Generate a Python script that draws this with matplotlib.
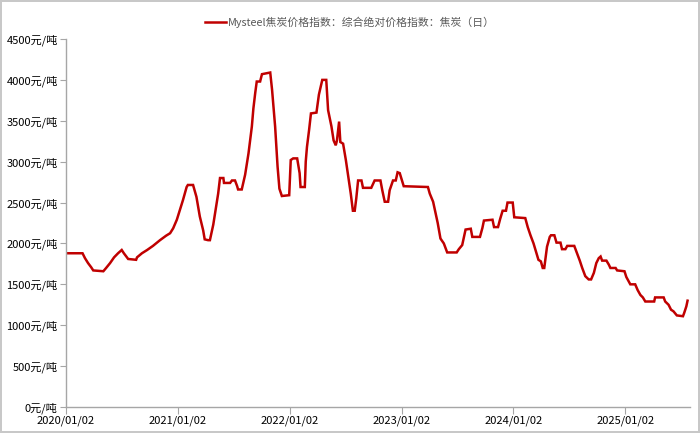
import matplotlib
matplotlib.use("Agg")
import matplotlib.pyplot as plt
import matplotlib.dates as mdates
import pandas as pd

plt.rcParams['font.family'] = ['Noto Sans CJK SC', 'DejaVu Sans']

series_name = "Mysteel焦炭价格指数：综合绝对价格指数：焦炭（日）"

dates = [
    "2020-01-02", "2020-02-25", "2020-03-04", "2020-03-14", "2020-03-24", "2020-03-31",
    "2020-05-03", "2020-05-12", "2020-05-25", "2020-06-07", "2020-06-20", "2020-07-02",
    "2020-07-09", "2020-07-23", "2020-08-18", "2020-08-21", "2020-09-06", "2020-09-23",
    "2020-10-12", "2020-11-04", "2020-11-24", "2020-12-07", "2020-12-17", "2020-12-29",
    "2021-01-08", "2021-01-18", "2021-01-30", "2021-02-03", "2021-02-20", "2021-03-03",
    "2021-03-14", "2021-03-25", "2021-03-30", "2021-04-10", "2021-04-16", "2021-04-27",
    "2021-05-13", "2021-05-19", "2021-05-30", "2021-06-01", "2021-06-21", "2021-06-27",
    "2021-07-07", "2021-07-14", "2021-07-17", "2021-07-29", "2021-08-09", "2021-08-20",
    "2021-08-31", "2021-09-05", "2021-09-11", "2021-09-16", "2021-09-27", "2021-10-03",
    "2021-10-30", "2021-11-05", "2021-11-15", "2021-11-23", "2021-11-29", "2021-12-07",
    "2021-12-31", "2022-01-05", "2022-01-13", "2022-01-26", "2022-02-03", "2022-02-06",
    "2022-02-20", "2022-02-23", "2022-02-27", "2022-03-06", "2022-03-12", "2022-03-30",
    "2022-04-07", "2022-04-18", "2022-05-01", "2022-05-07", "2022-05-18", "2022-05-25",
    "2022-06-01", "2022-06-05", "2022-06-12", "2022-06-16", "2022-06-25", "2022-07-04",
    "2022-07-11", "2022-07-20", "2022-07-27", "2022-08-02", "2022-08-07", "2022-08-13",
    "2022-08-24", "2022-08-29", "2022-09-25", "2022-10-06", "2022-10-25", "2022-10-31",
    "2022-11-08", "2022-11-19", "2022-11-24", "2022-12-05", "2022-12-14", "2022-12-20",
    "2022-12-27", "2023-01-09", "2023-03-29", "2023-04-04", "2023-04-15", "2023-04-23",
    "2023-04-30", "2023-05-09", "2023-05-20", "2023-05-31", "2023-07-01", "2023-07-08",
    "2023-07-19", "2023-07-30", "2023-08-16", "2023-08-21", "2023-09-15", "2023-09-23",
    "2023-09-28", "2023-10-26", "2023-10-31", "2023-11-13", "2023-11-20", "2023-11-28",
    "2023-12-09", "2023-12-14", "2023-12-31", "2024-01-05", "2024-02-10", "2024-02-18",
    "2024-02-27", "2024-03-08", "2024-03-17", "2024-03-24", "2024-04-01", "2024-04-07",
    "2024-04-12", "2024-04-21", "2024-04-30", "2024-05-04", "2024-05-15", "2024-05-22",
    "2024-06-04", "2024-06-09", "2024-06-20", "2024-06-26", "2024-07-19", "2024-07-28",
    "2024-08-06", "2024-08-14", "2024-08-24", "2024-09-04", "2024-09-12", "2024-09-21",
    "2024-09-29", "2024-10-07", "2024-10-13", "2024-10-18", "2024-11-01", "2024-11-09",
    "2024-11-14", "2024-12-01", "2024-12-06", "2024-12-30", "2025-01-05", "2025-01-18",
    "2025-02-03", "2025-02-11", "2025-02-20", "2025-02-28", "2025-03-08", "2025-04-06",
    "2025-04-09", "2025-05-07", "2025-05-12", "2025-05-23", "2025-05-31", "2025-06-08",
    "2025-06-19", "2025-07-09", "2025-07-13", "2025-07-20", "2025-07-24",
]

values = [
    1880, 1880, 1820, 1760, 1710, 1670,
    1660, 1700, 1760, 1830, 1880, 1920,
    1880, 1810, 1800, 1830, 1880, 1920,
    1970, 2040, 2095, 2125, 2185, 2290,
    2410, 2530, 2690, 2715, 2715, 2570,
    2330, 2160, 2050, 2040, 2040, 2230,
    2610, 2800, 2800, 2740, 2740, 2770,
    2770, 2700, 2660, 2660, 2840, 3100,
    3430, 3650, 3840, 3980, 3980, 4070,
    4090, 3880, 3430, 2940, 2670, 2580,
    2590, 3020, 3040, 3040, 2860, 2690,
    2690, 3000, 3180, 3390, 3590, 3600,
    3820, 4000, 4000, 3630, 3430, 3260,
    3200, 3260, 3490, 3240, 3220, 3020,
    2840, 2610, 2400, 2400, 2550, 2770,
    2770, 2680, 2680, 2770, 2770, 2650,
    2510, 2510, 2650, 2770, 2770, 2870,
    2860, 2700, 2690, 2610, 2510, 2370,
    2250, 2060, 2000, 1890, 1890, 1930,
    1980, 2170, 2180, 2080, 2080, 2190,
    2280, 2290, 2200, 2200, 2300, 2400,
    2400, 2500, 2500, 2320, 2310, 2200,
    2100, 2000, 1890, 1800, 1780, 1700,
    1700, 1960, 2080, 2100, 2100, 2010,
    2010, 1930, 1930, 1970, 1970, 1880,
    1790, 1700, 1600, 1560, 1560, 1640,
    1760, 1820, 1840, 1790, 1790, 1740,
    1700, 1700, 1670, 1660, 1590, 1500,
    1500, 1430, 1370, 1340, 1290, 1290,
    1340, 1340, 1290, 1250, 1190, 1170,
    1120, 1110, 1150, 1230, 1300,
]

x_ticks = ["2020-01-02", "2021-01-02", "2022-01-02", "2023-01-02", "2024-01-02", "2025-01-02"]
y_ticks = [0, 500, 1000, 1500, 2000, 2500, 3000, 3500, 4000, 4500]

d = pd.to_datetime(dates)

fig = plt.figure(figsize=(7.0, 4.33), dpi=100)
fig.patch.set_facecolor('white')
fig.patch.set_edgecolor('#c8c8c8')
fig.patch.set_linewidth(1.5)

ax = fig.add_axes([66 / 700, 26 / 433, (690 - 66) / 700, (407 - 39) / 433])
line, = ax.plot(d, values, color='#C00000', lw=1.8, solid_joinstyle='miter', label=series_name)

ax.set_ylim(0, 4500)
ax.set_xlim(pd.Timestamp("2020-01-02"), pd.Timestamp("2025-08-01"))
ax.set_yticks(y_ticks)
ax.set_yticklabels([f"{v}元/吨" for v in y_ticks])
ax.set_xticks(pd.to_datetime(x_ticks))
ax.set_xticklabels([t.replace('-', '/') for t in x_ticks])

for s in ['top', 'right']:
    ax.spines[s].set_visible(False)
for s in ['left', 'bottom']:
    ax.spines[s].set_color('#a6a6a6')
    ax.spines[s].set_linewidth(1.0)

ax.tick_params(axis='y', direction='out', length=4, color='#a6a6a6', labelsize=8, labelcolor='#000000', pad=2)
ax.tick_params(axis='x', direction='out', length=5, color='#a6a6a6', labelsize=8, labelcolor='#000000', pad=1)

fig.legend(handles=[line], labels=[series_name], loc='upper center', bbox_to_anchor=(0.5, 0.985),
           frameon=False, fontsize=7.8, labelcolor='#595959', handlelength=1.9, handletextpad=0.2)

fig.savefig("out.png", dpi=100, facecolor=fig.get_facecolor(), edgecolor=fig.get_edgecolor())
